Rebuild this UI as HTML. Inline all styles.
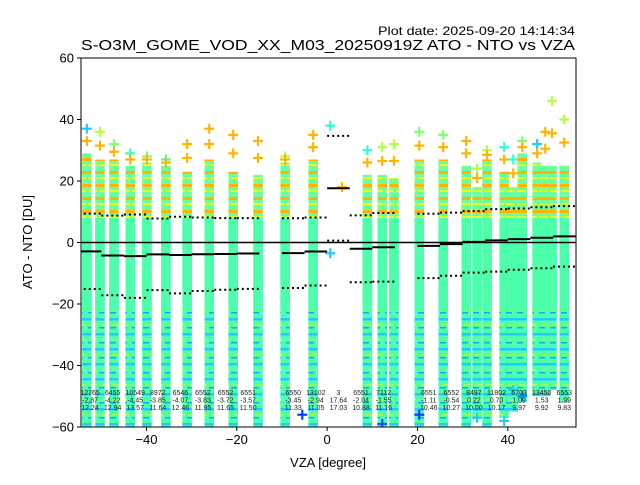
<!DOCTYPE html>
<html><head><meta charset="utf-8"><style>
body{margin:0;background:#fff;font-family:"Liberation Sans",sans-serif;}
svg text{font-family:"Liberation Sans","DejaVu Sans",sans-serif;}
</style></head><body>
<svg id="chart" width="640" height="480" viewBox="0 0 640 480" xmlns="http://www.w3.org/2000/svg">
<defs>
<pattern id="lowPat" width="11" height="15" patternUnits="userSpaceOnUse">
<rect width="11" height="15" fill="#4dffaa"/>
<rect y="3" width="11" height="2.5" fill="#1ecbff"/>
<rect x="2" y="9" width="7" height="1.5" fill="#a8ff50"/>
<rect x="0" y="12" width="6" height="1.5" fill="#00b0ff"/>
</pattern>
<pattern id="highPat" width="11" height="13" patternUnits="userSpaceOnUse">
<rect width="11" height="13" fill="#6cffa0"/>
<rect y="2" width="11" height="3" fill="#ffb400"/>
<rect y="8" width="9" height="2" fill="#e6ff1a"/>
</pattern>
<clipPath id="plotClip"><rect x="81" y="58" width="495" height="369"/></clipPath>
</defs>
<rect x="0" y="0" width="640" height="480" fill="#fff"/>
<text x="575" y="35" font-size="12" text-anchor="end" textLength="197" lengthAdjust="spacingAndGlyphs" fill="#000">Plot date: 2025-09-20 14:14:34</text>
<text x="81" y="50" font-size="15" textLength="494" lengthAdjust="spacingAndGlyphs" fill="#000">S-O3M_GOME_VOD_XX_M03_20250919Z ATO - NTO vs VZA</text>
<g id="plot" clip-path="url(#plotClip)"></g>
<g id="axes"></g>
</svg>
<script>
// ---- data ----
const colVza = [-53.2,-50.3,-47.2,-43.6,-39.9,-35.7,-31.0,-26.1,-20.8,-15.3,-9.3,-3.1,8.9,12.2,14.8,20.4,25.7,30.8,33.2,35.4,39.2,41.2,43.2,46.5,48.3,49.8,52.5];
const colBandTop = [29,27,27,25,26,25,23,27,23,22,26,27,22,22,21,27,27,25,18,27,23,18,29,26,25,25,25];
const colMarkTop = [37,36,32,29,28,27,32,37,35,33,28,35,30,31,32,36,35,33,24,30,31,27,33,32,36,46,40];
const colBottom = [-60,-60,-60,-60,-60,-60,-60,-60,-60,-60,-60,-60,-60,-60,-60,-60,-60,-60,-57,-60,-57,-55,-52,-50,-50,-48,-52];
const colTopColor = ['#1ecbff','#b4ff44','#7dff7a','#30ffd0','#7dff7a','#4dffaa','#ffb400','#ffb400','#ffb400','#ffb400','#b4ff44','#ffb400','#30ffd0','#b4ff44','#b4ff44','#7dff7a','#7dff7a','#ffb400','#b4ff44','#b4ff44','#30ffd0','#30ffd0','#7dff7a','#1ecbff','#ffb400','#b4ff44','#b4ff44'];
const extraX = [0.7,0.7,3.3,33.2,39.2,41.2,43.2,-5.5,12.2,20.4];
const extraY = [38,-3.5,18,-57,-58,-48,-50,-56,-59,-56];
const extraColor = ['#30ffd0','#1ecbff','#ffb400','#1ecbff','#1ecbff','#1ecbff','#0090ff','#0040ff','#1e50ff','#0040ff'];
const binCenters = [-52.5,-47.5,-42.5,-37.5,-32.5,-27.5,-22.5,-17.5,-7.5,-2.5,2.5,7.5,12.5,22.5,27.5,32.5,37.5,42.5,47.5,52.5];
const binCounts = ['12765','6455','10549','8972','6546','6552','6552','6551','6550','13102','3','6551','7112','6551','6552','8497','11802','6703','13450','6553'];
const binMedian = [-2.87,-4.22,-4.45,-3.85,-4.07,-3.83,-3.72,-3.57,-3.45,-2.94,17.64,-2.04,-1.55,-1.11,-0.54,0.22,0.70,1.09,1.53,1.99];
const binStd = [12.24,12.94,13.57,11.64,12.46,11.95,11.65,11.50,11.33,11.05,17.03,10.88,11.16,10.46,10.27,10.00,10.17,9.97,9.92,9.83];
const xTicks = [-40,-20,0,20,40];
const yTicks = [-60,-40,-20,0,20,40,60];
// ---- scales ----
const X0=81,X1=576,Y0=58,Y1=427,xmin=-54.5,xmax=55.1,ymin=-60,ymax=60;
const sx=v=>X0+(v-xmin)/(xmax-xmin)*(X1-X0);
const sy=v=>Y1-(v-ymin)/(ymax-ymin)*(Y1-Y0);
const NS='http://www.w3.org/2000/svg';
const plot=document.getElementById('plot'), axes=document.getElementById('axes');
function mk(tag,attrs,parent){const e=document.createElementNS(NS,tag);for(const k in attrs)e.setAttribute(k,attrs[k]);parent.appendChild(e);return e;}
function plus(x,y,c,parent){
  const g=mk('g',{stroke:c,'stroke-width':2.2},parent);
  
  
  mk('line',{x1:x-5,y1:y,x2:x+5,y2:y},g);mk('line',{x1:x,y1:y-5,x2:x,y2:y+5},g);
}
const CW=9.5;
// columns
colVza.forEach((v,i)=>{
  const cx=sx(v), split=sy(8), top=sy(colBandTop[i]), bot=sy(colBottom[i]);
  const g=mk('g',{},plot);
  
  
  mk('rect',{x:cx-CW/2,y:split,width:CW,height:Math.max(0,bot-split),fill:'url(#lowPat)'},g);
  mk('rect',{x:cx-CW/2,y:sy(8),width:CW,height:sy(-22)-sy(8),fill:'#4dffaa'},g);
  mk('rect',{x:cx-CW/2,y:top,width:CW,height:Math.max(0,split-top),fill:'url(#highPat)'},g);
  plus(cx,sy(colMarkTop[i]),colTopColor[i],g);
  plus(cx,sy((colMarkTop[i]+colBandTop[i])/2),'#ffb400',g);
});
extraX.forEach((v,i)=>plus(sx(v),sy(extraY[i]),extraColor[i],plot));
// zero line
const zl=mk('line',{x1:X0,x2:X1,y1:sy(0),y2:sy(0),stroke:'#000','stroke-width':1.5},plot);


// median & std
binCenters.forEach((c,i)=>{
  const xa=sx(c-2.5),xb=sx(c+2.5);
  const m=mk('line',{x1:xa,x2:xb,y1:sy(binMedian[i]),y2:sy(binMedian[i]),stroke:'#000','stroke-width':2},plot);
  
  
  [binMedian[i]+binStd[i],binMedian[i]-binStd[i]].forEach(s=>{
    const d=mk('line',{x1:xa,x2:xb,y1:sy(s),y2:sy(s),stroke:'#000','stroke-width':2,'stroke-dasharray':'2,3'},plot);
    
    
  });
  const t=mk('text',{x:sx(c),y:395,'font-size':7,'text-anchor':'middle',fill:'#222'},plot);
  
  
  [binCounts[i],binMedian[i].toFixed(2),binStd[i].toFixed(2)].forEach((s,k)=>{const ts=mk('tspan',{x:sx(c),dy:k?7.5:0},t);ts.textContent=s;});
});
// frame
const fr=mk('rect',{x:X0,y:Y0,width:X1-X0,height:Y1-Y0,fill:'none',stroke:'#000','stroke-width':1},axes);


xTicks.forEach(v=>{
  mk('line',{x1:sx(v),x2:sx(v),y1:Y1,y2:Y1+4,stroke:'#000'},axes);
  const t=mk('text',{x:sx(v),y:Y1+17,'font-size':13,'text-anchor':'middle'},axes);
  
  
  t.textContent=v<0?'\u2212'+(-v):v;
});
yTicks.forEach(v=>{
  mk('line',{x1:X0-4,x2:X0,y1:sy(v),y2:sy(v),stroke:'#000'},axes);
  const t=mk('text',{x:X0-7,y:sy(v)+4.5,'font-size':13,'text-anchor':'end'},axes);
  
  
  t.textContent=v<0?'\u2212'+(-v):v;
});
const xl=mk('text',{x:328,y:467,'font-size':13,'text-anchor':'middle'},axes);


xl.textContent='VZA [degree]';
const yl=mk('text',{x:32,y:242,'font-size':13,'text-anchor':'middle',transform:'rotate(-90 32 242)'},axes);


yl.textContent='ATO - NTO [DU]';
</script>
</body></html>
